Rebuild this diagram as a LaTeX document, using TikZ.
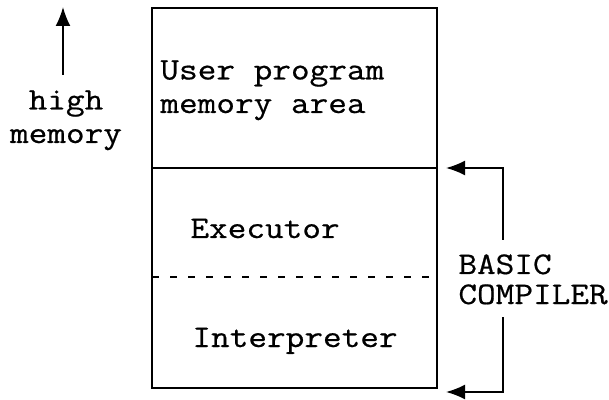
\documentclass[tikz,border=0pt]{standalone}
\usepackage{fontspec}
\setmonofont{Latin Modern Mono}[FakeStretch=1.15,FakeBold=0.6]
\usetikzlibrary{arrows.meta}
\tikzstyle{memtext}=[inner sep=0pt, align=left, font=\ttfamily\fontsize{15.75}{16.75}\selectfont]
\tikzstyle{wall}=[line width=1pt]
\tikzstyle{feed}=[line width=0.9pt, -{Latex[length=9.5pt,width=7.5pt]}]
\newcommand{\divider}[3]{
% horizontal line across the memory box at height #1
\coordinate (#2left) at (152,#1);
\coordinate (#2right) at (437,#1);
\draw[wall,#3] (#2left) -- (#2right);
}

\begin{document}
\begin{tikzpicture}[x=0.5pt,y=-0.5pt]
\useasboundingbox (0,0) rectangle (609,400);
	\coordinate (boxtop) at (152,8);
	\coordinate (boxbot) at (437,388);
	\draw[wall] (boxtop) rectangle (boxbot);
	\divider{168}{user}{}
	\divider{277}{split}{dash pattern=on 3.5pt off 5.5pt}

	% base of a two line node sits on its last line
	\node[memtext, anchor=base west] (userarea) at (160,113) {User program\\memory area};
	\node[memtext, anchor=base west] (executor) at (190,238) {Executor};
	\node[memtext, anchor=base west] (interp) at (192,347) {Interpreter};

	% high memory pointer
	\node[memtext, align=center, anchor=base] (high) at (66,143) {high\\memory};
	\coordinate (hightail) at (63,75);
	\coordinate (hightip) at (63,7);
	\draw[feed] (hightail) -- (hightip);

	% compiler bracket
	\node[memtext, font=\ttfamily\fontsize{15.75}{15}\selectfont, anchor=base west] (compiler) at (458,304) {BASIC\\COMPILER};
	\coordinate (uppercorner) at (503,168);
	\coordinate (upperend) at (503,240);
	\coordinate (lowercorner) at (503,392);
	\coordinate (lowerend) at (503,317);
	\coordinate (uppertip) at (446,168);
	\coordinate (lowertip) at (446,392);
	\draw[feed] (upperend) -- (uppercorner) -- (uppertip);
	\draw[feed] (lowerend) -- (lowercorner) -- (lowertip);
\end{tikzpicture}
\end{document}
